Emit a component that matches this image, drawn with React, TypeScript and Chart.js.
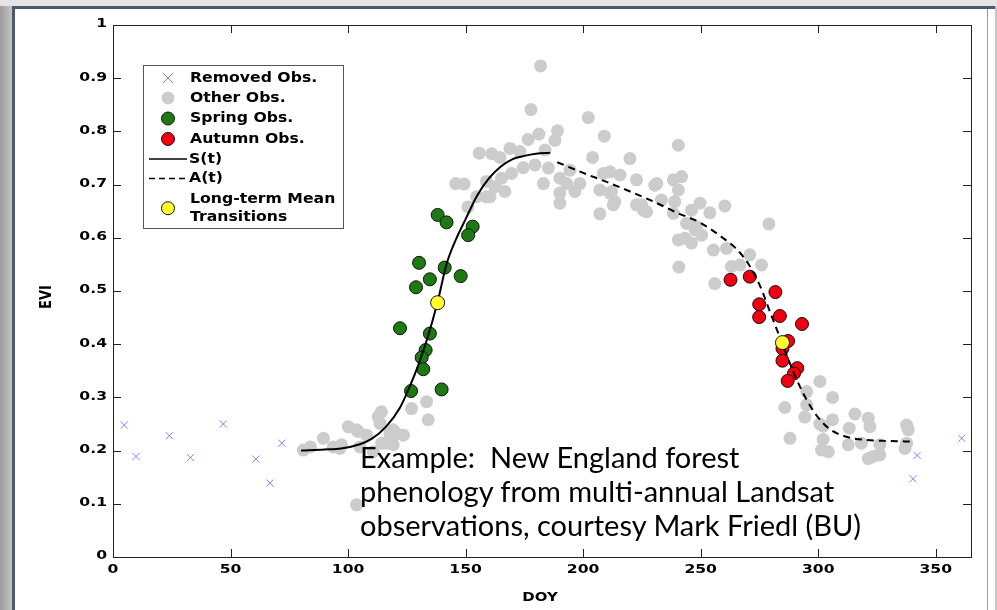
import React, { useEffect, useRef } from "react";
import { Chart, registerables } from "chart.js";

Chart.register(...registerables);

// ---- data ----
const xTicks = [0, 50, 100, 150, 200, 250, 300, 350];
const yTicks = [0, 0.1, 0.2, 0.3, 0.4, 0.5, 0.6, 0.7, 0.8, 0.9, 1];
const yTickLabels = ["0", "0.1", "0.2", "0.3", "0.4", "0.5", "0.6", "0.7", "0.8", "0.9", "1"];

const removedObs: [number, number][] = [
  [4.8, 0.248], [9.8, 0.189], [24, 0.228], [33, 0.187], [46.9, 0.25],
  [60.8, 0.184], [66.8, 0.139], [71.8, 0.214], [340.3, 0.147], [342.1, 0.191], [361.1, 0.223],
];

const otherObs: [number, number][] = [
  [81, 0.201], [84, 0.207], [89.5, 0.223], [93.7, 0.207], [96.5, 0.204], [97.2, 0.211],
  [100.1, 0.245], [103.6, 0.239], [104.3, 0.236], [105.1, 0.207], [107.9, 0.229], [110.7, 0.198],
  [103.6, 0.098], [112.8, 0.264], [114.2, 0.273], [113.6, 0.251], [114.3, 0.214], [116.4, 0.214],
  [117.8, 0.232], [119.2, 0.239], [119.2, 0.211], [120.7, 0.232], [123.5, 0.229], [127, 0.279],
  [133.4, 0.292], [134.1, 0.258],
  [145.8, 0.702], [149.4, 0.701], [151, 0.658], [154.7, 0.677], [158.9, 0.677], [155.8, 0.759],
  [161.1, 0.758], [164.6, 0.751], [168.9, 0.768], [173.1, 0.762], [158.9, 0.706], [165.3, 0.712],
  [169.6, 0.721], [174.5, 0.732], [179.5, 0.737], [185.2, 0.731], [183.8, 0.765], [176.6, 0.785],
  [181.2, 0.795], [177.8, 0.841], [181.9, 0.923], [188, 0.783], [189.1, 0.801], [202.2, 0.826],
  [209, 0.791], [204, 0.751], [183.1, 0.702], [190.1, 0.712], [193, 0.702], [198.6, 0.702],
  [190.1, 0.684], [196.5, 0.687], [160.4, 0.677], [166.7, 0.687], [162.5, 0.696], [190.1, 0.665],
  [207.1, 0.645], [211.4, 0.684], [213.5, 0.668], [208.6, 0.721], [211.4, 0.724], [194.4, 0.727],
  [207.1, 0.69], [219.9, 0.749], [240.5, 0.774], [215.7, 0.718], [222.7, 0.709], [212.1, 0.687],
  [212.8, 0.662], [230.5, 0.699], [238.4, 0.709], [241.9, 0.715], [240.5, 0.69], [224.9, 0.662],
  [227, 0.649], [233.3, 0.671], [239, 0.668], [238.4, 0.646], [249.7, 0.665], [246.1, 0.652],
  [253.9, 0.647], [260.3, 0.66], [244, 0.627], [248.2, 0.621], [243.3, 0.599], [246.1, 0.59],
  [250.4, 0.605], [255.4, 0.577], [261, 0.58], [240.7, 0.545], [263.1, 0.546], [266.7, 0.549],
  [270.9, 0.568], [275.9, 0.549], [279, 0.626], [256, 0.514], [222.7, 0.662], [231.3, 0.702],
  [240.5, 0.596], [225.6, 0.652], [247.6, 0.615],
  [300.7, 0.33], [295.1, 0.311], [306.1, 0.3], [285.8, 0.281], [295.1, 0.286], [294.3, 0.263],
  [300.7, 0.25], [302.1, 0.246], [306.1, 0.258], [313.2, 0.242], [315.6, 0.269], [321.3, 0.261],
  [322, 0.245], [288, 0.223], [302.1, 0.221], [312.8, 0.211], [318.4, 0.214], [326.2, 0.211],
  [304.3, 0.198], [301.4, 0.201], [321.3, 0.185], [326.2, 0.192], [323.4, 0.189], [337.6, 0.248],
  [338.3, 0.239], [337.6, 0.214], [336.9, 0.204],
];

const springObs: [number, number][] = [
  [138.1, 0.643], [141.9, 0.629], [153, 0.621], [151.1, 0.605], [130.2, 0.553], [141.1, 0.544],
  [147.9, 0.528], [134.8, 0.522], [128.9, 0.507], [122.1, 0.43], [134.8, 0.42], [133, 0.389],
  [131.3, 0.375], [132, 0.353], [126.8, 0.312], [139.8, 0.315],
];

const autumnObs: [number, number][] = [
  [262.7, 0.521], [270.9, 0.527], [281.8, 0.498], [274.9, 0.475], [274.9, 0.451], [283.7, 0.453],
  [293.1, 0.438], [287.2, 0.406], [284.8, 0.392], [284.8, 0.369], [291.1, 0.355], [289.7, 0.345],
  [287, 0.331],
];

const transitions: [number, number][] = [[138.1, 0.478], [284.8, 0.403]];

const sDoy = [80, 90, 97, 105, 110, 116, 122, 126, 130, 134, 138, 142, 146, 150, 155, 160, 165, 170, 175, 180, 186];
const sEvi = [0.2, 0.202, 0.204, 0.212, 0.222, 0.244, 0.28, 0.318, 0.362, 0.415, 0.478, 0.552, 0.598, 0.635, 0.68, 0.712, 0.734, 0.748, 0.754, 0.758, 0.76];

const aDoy = [189, 200, 210, 220, 230, 240, 250, 260, 265, 270, 275, 280, 285, 290, 295, 300, 305, 312, 320, 330, 341];
const aEvi = [0.742, 0.722, 0.705, 0.687, 0.668, 0.647, 0.628, 0.598, 0.58, 0.553, 0.512, 0.455, 0.398, 0.342, 0.296, 0.262, 0.24, 0.226, 0.22, 0.218, 0.217];

const legendLabels = ["Removed Obs.", "Other Obs.", "Spring Obs.", "Autumn Obs.", "S(t)", "A(t)", "Long-term Mean", "Transitions"];

const GRAY = "#cccccc";
const GREEN = "#1d7a12";
const RED = "#f00010";
const YELLOW = "#ffff2e";
const XBLUE = "#7f7fff";

const toXY = (a: [number, number][]) => a.map(([x, y]) => ({ x, y }));

const FONT = '"DejaVu Sans", sans-serif';

// draw text stretched horizontally (the source slide is widened)
function stretchText(ctx: CanvasRenderingContext2D, text: string, x: number, y: number, sx: number, align: "left" | "right" | "center") {
  ctx.save();
  ctx.translate(x, y);
  ctx.scale(sx, 1);
  ctx.textAlign = align;
  ctx.fillText(text, 0, 0);
  ctx.restore();
}

const framePlugin = {
  id: "matlabFrame",
  afterDraw(chart: any) {
    const { ctx, chartArea: a, scales } = chart;
    ctx.save();
    ctx.strokeStyle = "#222";
    ctx.lineWidth = 1;
    ctx.strokeRect(Math.round(a.left) + 0.5, Math.round(a.top) + 0.5, Math.round(a.right - a.left), Math.round(a.bottom - a.top));
    const tl = 8;
    ctx.beginPath();
    for (const v of xTicks) {
      const px = Math.round(scales.x.getPixelForValue(v)) + 0.5;
      ctx.moveTo(px, a.bottom); ctx.lineTo(px, a.bottom - tl);
      ctx.moveTo(px, a.top); ctx.lineTo(px, a.top + tl);
    }
    for (const v of yTicks) {
      const py = Math.round(scales.y.getPixelForValue(v)) + 0.5;
      ctx.moveTo(a.left, py); ctx.lineTo(a.left + tl, py);
      ctx.moveTo(a.right, py); ctx.lineTo(a.right - tl, py);
    }
    ctx.stroke();

    // tick labels
    ctx.fillStyle = "#000";
    ctx.font = `bold 13px ${FONT}`;
    ctx.textBaseline = "middle";
    xTicks.forEach((v) => {
      stretchText(ctx, String(v), scales.x.getPixelForValue(v), a.bottom + 13, 1.2, "center");
    });
    yTicks.forEach((v, i) => {
      stretchText(ctx, yTickLabels[i], a.left - 6, scales.y.getPixelForValue(v) - 1, 1.2, "right");
    });

    // axis titles
    stretchText(ctx, "DOY", 540, 598, 1.15, "center");
    ctx.save();
    ctx.translate(47, 297);
    ctx.rotate(-Math.PI / 2);
    ctx.scale(1, 1.15);
    ctx.textAlign = "center";
    ctx.fillText("EVI", 0, 0);
    ctx.restore();

    // legend
    const bx = 143.5, by = 65.5, bw = 200, bh = 163;
    ctx.fillStyle = "#fff";
    ctx.fillRect(bx, by, bw, bh);
    ctx.strokeStyle = "#555";
    ctx.strokeRect(bx, by, bw, bh);
    const mx = 168, tx = 190;
    ctx.font = `bold 14px ${FONT}`;
    ctx.textBaseline = "middle";
    const rows = [78, 98, 118.5, 139, 159, 178.5, 199.5, 217];
    ctx.strokeStyle = XBLUE;
    ctx.lineWidth = 1;
    ctx.beginPath();
    ctx.moveTo(mx - 5, rows[0] - 5); ctx.lineTo(mx + 5, rows[0] + 5);
    ctx.moveTo(mx + 5, rows[0] - 5); ctx.lineTo(mx - 5, rows[0] + 5);
    ctx.stroke();
    const circ = (y: number, fill: string, stroke: boolean) => {
      ctx.beginPath();
      ctx.arc(mx, y, 6.5, 0, Math.PI * 2);
      ctx.fillStyle = fill;
      ctx.fill();
      if (stroke) { ctx.strokeStyle = "#111"; ctx.lineWidth = 1; ctx.stroke(); }
    };
    circ(rows[1], GRAY, false);
    circ(rows[2], GREEN, true);
    circ(rows[3], RED, true);
    circ((rows[6] + rows[7]) / 2, YELLOW, true);
    ctx.strokeStyle = "#000";
    ctx.lineWidth = 1.6;
    ctx.beginPath();
    ctx.moveTo(149, rows[4]); ctx.lineTo(187, rows[4]);
    ctx.stroke();
    ctx.setLineDash([6, 4]);
    ctx.beginPath();
    ctx.moveTo(149, rows[5]); ctx.lineTo(187, rows[5]);
    ctx.stroke();
    ctx.setLineDash([]);
    ctx.fillStyle = "#000";
    for (let i = 0; i < legendLabels.length; i++) {
      const x = i === 4 || i === 5 ? 189 : tx;
      stretchText(ctx, legendLabels[i], x, rows[i], 1.12, "left");
    }
    ctx.restore();
  },
};

export default function App() {
  const ref = useRef<HTMLCanvasElement | null>(null);
  useEffect(() => {
    if (!ref.current) return;
    const chart = new Chart(ref.current, {
      type: "scatter",
      data: {
        datasets: [
          {
            type: "scatter", label: "Long-term Mean Transitions", data: toXY(transitions), order: 0,
            pointRadius: 7, backgroundColor: YELLOW, borderColor: "#111", borderWidth: 1,
          },
          {
            type: "line", label: "S(t)", data: sDoy.map((x, i) => ({ x, y: sEvi[i] })), order: 1,
            borderColor: "#000", borderWidth: 2, pointRadius: 0, showLine: true, tension: 0.4,
            cubicInterpolationMode: "monotone", fill: false,
          },
          {
            type: "line", label: "A(t)", data: aDoy.map((x, i) => ({ x, y: aEvi[i] })), order: 2,
            borderColor: "#000", borderWidth: 2, borderDash: [7, 5], pointRadius: 0, showLine: true,
            tension: 0.4, cubicInterpolationMode: "monotone", fill: false,
          },
          {
            type: "scatter", label: "Autumn Obs.", data: toXY(autumnObs), order: 3,
            pointRadius: 6.5, backgroundColor: RED, borderColor: "#111", borderWidth: 1,
          },
          {
            type: "scatter", label: "Spring Obs.", data: toXY(springObs), order: 4,
            pointRadius: 6.5, backgroundColor: GREEN, borderColor: "#111", borderWidth: 1,
          },
          {
            type: "scatter", label: "Removed Obs.", data: toXY(removedObs), order: 5,
            pointStyle: "crossRot", pointRadius: 5, borderColor: XBLUE, borderWidth: 1,
          },
          {
            type: "scatter", label: "Other Obs.", data: toXY(otherObs), order: 6,
            pointRadius: 6.5, backgroundColor: GRAY, borderWidth: 0,
          },
        ] as any,
      },
      options: {
        animation: false,
        responsive: false,
        events: [],
        layout: { padding: { left: 0, top: 25, right: 26, bottom: 0 } },
        plugins: { legend: { display: false }, tooltip: { enabled: false } },
        scales: {
          x: {
            type: "linear", min: 0, max: 365,
            grid: { display: false, drawTicks: false },
            border: { display: false },
            afterBuildTicks: (s: any) => { s.ticks = xTicks.map((v) => ({ value: v })); },
            afterFit: (s: any) => { s.height = 53; },
            ticks: { display: false },
          },
          y: {
            type: "linear", min: 0, max: 1,
            grid: { display: false, drawTicks: false },
            border: { display: false },
            afterBuildTicks: (s: any) => { s.ticks = yTicks.map((v) => ({ value: v })); },
            afterFit: (s: any) => { s.width = 113; },
            ticks: { display: false },
          },
        },
      } as any,
      plugins: [framePlugin],
    });
    return () => chart.destroy();
  }, []);

  return (
    <div style={{ position: "absolute", left: 0, top: 0, width: 997, height: 610, overflow: "hidden", background: "linear-gradient(to right, #9c9c9c, #c4c4c4 12px, #c4c4c4)" }}>
      <div style={{ position: "absolute", left: 0, top: 0, width: 997, height: 6, background: "#e4e4e4" }} />
      <div style={{ position: "absolute", left: 12, top: 6, width: 983, height: 604, background: "#fff", borderLeft: "3px solid #4a5a6e", borderTop: "3px solid #4a5a6e", boxSizing: "border-box" }} />
      <div style={{ position: "absolute", left: 987, top: 9, width: 1, height: 601, background: "#9a9a9a" }} />
      <canvas ref={ref} width={997} height={610} style={{ position: "absolute", left: 0, top: 0, width: 997, height: 610 }} />
      <div style={{ position: "absolute", left: 360, top: 440, fontFamily: "Lato, 'Open Sans', sans-serif", fontSize: 29, lineHeight: "34px", color: "#000", whiteSpace: "pre" }}>
        {"Example:  New England forest\nphenology from multi-annual Landsat\nobservations, courtesy Mark Friedl (BU)"}
      </div>
    </div>
  );
}
